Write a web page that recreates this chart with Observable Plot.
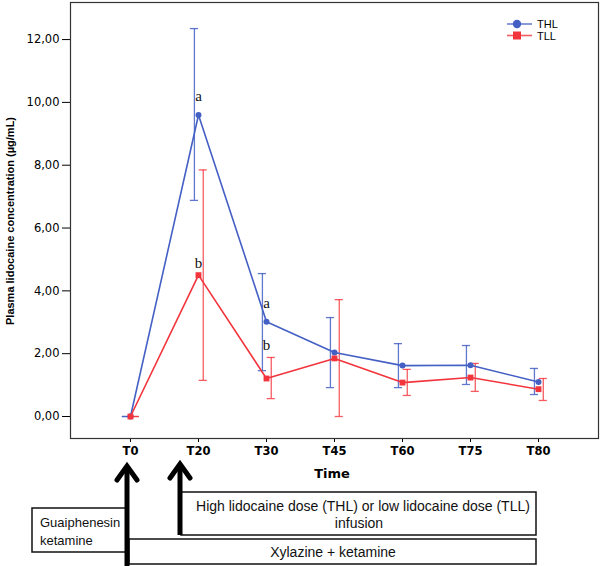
<!DOCTYPE html>
<html>
<head>
<meta charset="utf-8">
<script src="https://cdn.jsdelivr.net/npm/d3@7"></script>
<script src="https://cdn.jsdelivr.net/npm/@observablehq/plot@0.6"></script>
<style>
  html, body { margin: 0; padding: 0; background: #fff; }
  #chart { position: relative; width: 600px; height: 566px; }
</style>
</head>
<body>
<div id="chart"></div>
<script>
// ---- data ----
const times = ["T0", "T20", "T30", "T45", "T60", "T75", "T80"];
const thlMean = [0, 9.6, 3.02, 2.04, 1.62, 1.63, 1.1];
const thlLow  = [0, 6.88, 1.46, 0.92, 0.92, 1.02, 0.7];
const thlHigh = [0, 12.35, 4.55, 3.15, 2.32, 2.26, 1.53];
const tllMean = [0, 4.5, 1.21, 1.85, 1.08, 1.24, 0.87];
const tllLow  = [0, 1.15, 0.57, 0, 0.67, 0.8, 0.51];
const tllHigh = [0, 7.85, 1.88, 3.72, 1.5, 1.69, 1.21];
const yTicks = [0, 2, 4, 6, 8, 10, 12];
const sigLabels = ["a", "b", "a", "b"];
const sigTime = ["T20", "T20", "T30", "T30"];
const sigValue = [10.2, 4.87, 3.6, 2.26];
const seriesNames = ["THL", "TLL"];

const blue = "#4460c4", red = "#f2343c";
const idx = t => times.indexOf(t);
const thl = times.map((t, i) => ({i, mean: thlMean[i], lo: thlLow[i], hi: thlHigh[i]}));
const tll = times.map((t, i) => ({i, mean: tllMean[i], lo: tllLow[i], hi: tllHigh[i]}));
const sig = sigLabels.map((s, k) => ({s, i: idx(sigTime[k]), v: sigValue[k], series: k % 2}));

const oB = -0.06, oR = 0.07, cap = 0.06;

const plot = Plot.plot({
  width: 600, height: 566,
  marginLeft: 70, marginRight: 2, marginTop: 2, marginBottom: 128,
  style: {fontFamily: "DejaVu Sans, sans-serif", background: "#fff"},
  x: {domain: [-0.882, 6.882], ticks: d3.range(times.length), tickFormat: i => times[i], tickSize: 4, tickPadding: 4, label: null},
  y: {domain: [-0.70, 13.18], ticks: yTicks, tickFormat: d => d3.format(".2f")(d).replace(".", ","), tickSize: 8, tickPadding: 3, label: null},
  marks: [
    Plot.frame({stroke: "#333", strokeWidth: 1.2}),
    // error bars THL
    Plot.ruleX(thl, {x: d => d.i + oB, y1: "lo", y2: "hi", stroke: blue, strokeWidth: 1.3, strokeOpacity: 0.85}),
    Plot.ruleY(thl, {x1: d => d.i + oB - cap, x2: d => d.i + oB + cap, y: "lo", stroke: blue, strokeWidth: 1.3, strokeOpacity: 0.85}),
    Plot.ruleY(thl, {x1: d => d.i + oB - cap, x2: d => d.i + oB + cap, y: "hi", stroke: blue, strokeWidth: 1.3, strokeOpacity: 0.85}),
    // error bars TLL
    Plot.ruleX(tll, {x: d => d.i + oR, y1: "lo", y2: "hi", stroke: red, strokeWidth: 1.3, strokeOpacity: 0.8}),
    Plot.ruleY(tll, {x1: d => d.i + oR - cap, x2: d => d.i + oR + cap, y: "lo", stroke: red, strokeWidth: 1.3, strokeOpacity: 0.8}),
    Plot.ruleY(tll, {x1: d => d.i + oR - cap, x2: d => d.i + oR + cap, y: "hi", stroke: red, strokeWidth: 1.3, strokeOpacity: 0.8}),
    // lines
    Plot.line(thl, {x: "i", y: "mean", stroke: blue, strokeWidth: 1.6}),
    Plot.line(tll, {x: "i", y: "mean", stroke: red, strokeWidth: 1.6}),
    Plot.dot(thl, {x: "i", y: "mean", r: 3, fill: blue, stroke: null}),
    Plot.dot(tll, {x: "i", y: "mean", r: 3.3, symbol: "square", fill: red, stroke: null}),
    // significance letters
    Plot.text(sig, {x: "i", y: "v", text: "s", fontFamily: "Liberation Serif, serif", fontSize: 15, fill: "#111"})
  ]
});
document.getElementById("chart").appendChild(plot);

// axis styling
const svg = d3.select(plot);
svg.selectAll("[aria-label='x-axis tick label'] text").attr("font-weight", "bold").attr("font-size", 11.5);
svg.selectAll("[aria-label='y-axis tick label'] text").attr("font-size", 11.5);

// axis titles
svg.append("text").attr("x", 332).attr("y", 478).attr("text-anchor", "middle")
  .attr("font-family", "DejaVu Sans, sans-serif").attr("font-weight", "bold").attr("font-size", 13).text("Time");
svg.append("text").attr("transform", "translate(14,221) rotate(-90)").attr("text-anchor", "middle")
  .attr("font-family", "Liberation Sans, Arial, sans-serif").attr("font-weight", "bold").attr("font-size", 11)
  .text("Plasma lidocaine concentration (µg/mL)");

// legend
const leg = svg.append("g").attr("font-family", "Liberation Sans, Arial, sans-serif").attr("font-size", 11).attr("text-anchor", "start");
[[blue, 24, "circle"], [red, 35.5, "square"]].forEach(([c, y, sym], k) => {
  leg.append("line").attr("x1", 507).attr("x2", 532).attr("y1", y).attr("y2", y).attr("stroke", c).attr("stroke-width", 1.6).attr("stroke-opacity", 0.8);
  if (sym === "circle") leg.append("circle").attr("cx", 517).attr("cy", y).attr("r", 4.2).attr("fill", c);
  else leg.append("rect").attr("x", 513).attr("y", y - 4).attr("width", 8).attr("height", 8).attr("fill", c);
  leg.append("text").attr("x", 537).attr("y", y + 4).attr("text-anchor", "start").text(seriesNames[k]);
});

// annotations below chart
const ann = svg.append("g").attr("font-family", "Liberation Sans, Arial, sans-serif").attr("font-size", 14).attr("fill", "#111");
ann.append("rect").attr("x", 32).attr("y", 508).attr("width", 94).attr("height", 44).attr("fill", "#fff").attr("stroke", "#111").attr("stroke-width", 1.5);
ann.append("text").attr("x", 40).attr("y", 527).attr("font-size", 13).attr("text-anchor", "start").text("Guaiphenesin");
ann.append("text").attr("x", 40).attr("y", 545).attr("font-size", 13).attr("text-anchor", "start").text("ketamine");
ann.append("rect").attr("x", 181).attr("y", 492).attr("width", 355).attr("height", 43).attr("fill", "#fff").attr("stroke", "#111").attr("stroke-width", 1.5);
ann.append("text").attr("x", 363).attr("y", 511).attr("text-anchor", "middle").text("High lidocaine dose (THL) or low lidocaine dose (TLL)");
ann.append("text").attr("x", 359).attr("y", 528).attr("text-anchor", "middle").text("infusion");
ann.append("rect").attr("x", 129).attr("y", 539).attr("width", 407).attr("height", 25).attr("fill", "#fff").attr("stroke", "#111").attr("stroke-width", 1.5);
ann.append("text").attr("x", 333).attr("y", 557).attr("text-anchor", "middle").text("Xylazine + ketamine");
// arrows
function arrow(x, tip, bottom) {
  ann.append("line").attr("x1", x).attr("x2", x).attr("y1", tip + 3).attr("y2", bottom).attr("stroke", "#000").attr("stroke-width", 5);
  ann.append("path").attr("d", `M${x - 10},${tip + 17} L${x},${tip + 3} L${x + 10},${tip + 17}`)
    .attr("fill", "none").attr("stroke", "#000").attr("stroke-width", 5).attr("stroke-linecap", "round").attr("stroke-linejoin", "miter");
}
arrow(127, 463, 566);
arrow(180, 461, 535);
</script>
</body>
</html>
